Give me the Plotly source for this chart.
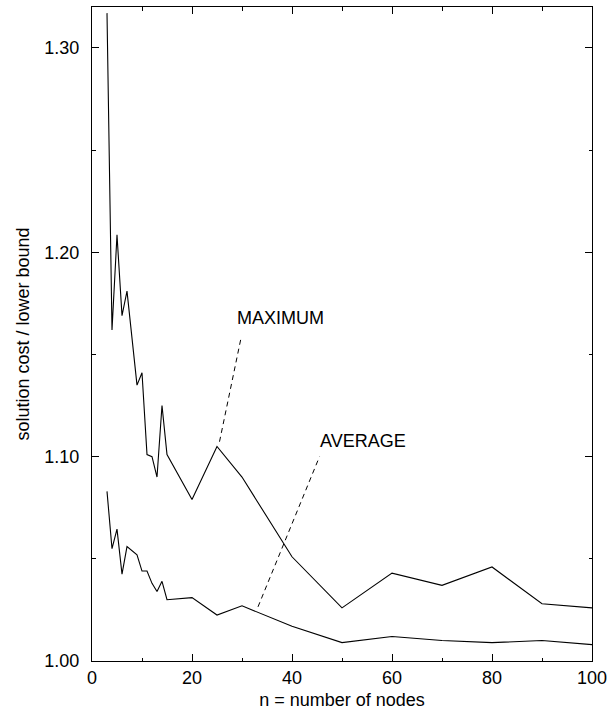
import plotly.graph_objects as go

# data
nodes = [3, 4, 5, 6, 7, 9, 10, 11, 12, 13, 14, 15, 20, 25, 30, 40, 50, 60, 70, 80, 90, 100]
maximum = [1.317, 1.162, 1.2085, 1.169, 1.181, 1.135, 1.141, 1.101, 1.100, 1.090, 1.125, 1.101,
           1.079, 1.105, 1.090, 1.051, 1.026, 1.043, 1.037, 1.046, 1.028, 1.026]
average = [1.083, 1.055, 1.0645, 1.0425, 1.056, 1.052, 1.044, 1.044, 1.038, 1.034, 1.039, 1.030,
           1.031, 1.0225, 1.027, 1.017, 1.009, 1.012, 1.010, 1.009, 1.010, 1.008]

FONT = "Liberation Sans, Arial, Helvetica, sans-serif"

fig = go.Figure()
fig.add_trace(go.Scatter(x=nodes, y=maximum, mode="lines", name="MAXIMUM",
                         line=dict(color="black", width=1.1)))
fig.add_trace(go.Scatter(x=nodes, y=average, mode="lines", name="AVERAGE",
                         line=dict(color="black", width=1.1)))

# leader lines
fig.add_shape(type="line", x0=25.5, y0=1.1073, x1=29.8, y1=1.158, xref="x", yref="y",
              line=dict(color="black", width=1, dash="5px,4px"))
fig.add_shape(type="line", x0=33.2, y0=1.0265, x1=45.5, y1=1.100, xref="x", yref="y",
              line=dict(color="black", width=1, dash="5px,4px"))

fig.add_annotation(x=28.66, y=1.168, text="MAXIMUM", showarrow=False, xanchor="left",
                   yanchor="middle", font=dict(family=FONT, size=18, color="black"))
fig.add_annotation(x=45.1, y=1.1078, text="AVERAGE", showarrow=False, xanchor="left",
                   yanchor="middle", font=dict(family=FONT, size=18, color="black"))

axis_common = dict(showline=True, linecolor="black", linewidth=1, mirror="ticks",
                   ticks="inside", ticklen=7, tickcolor="black", tickwidth=1,
                   showgrid=False, zeroline=False,
                   tickfont=dict(family=FONT, size=18, color="black"))

fig.update_xaxes(range=[0, 100], dtick=20, tick0=0, ticklabeloverflow="allow",
                 minor=dict(dtick=10, ticks="inside", ticklen=3.5, tickcolor="black", showgrid=False),
                 title=dict(text="n = number of nodes", font=dict(family=FONT, size=18, color="black"),
                            standoff=6),
                 **axis_common)
fig.update_yaxes(range=[1.0, 1.32], dtick=0.1, tick0=1.0, tickformat=".2f",
                 ticklabelstandoff=8,
                 minor=dict(dtick=0.05, ticks="inside", ticklen=3.5, tickcolor="black", showgrid=False),
                 title=dict(text="solution cost / lower bound", font=dict(family=FONT, size=18, color="black"),
                            standoff=10),
                 **axis_common)

fig.update_layout(width=607, height=714, showlegend=False,
                  margin=dict(l=92, r=15, t=7, b=53, autoexpand=False),
                  plot_bgcolor="white", paper_bgcolor="white",
                  font=dict(family=FONT, size=18, color="black"))

# remove the default page margin so the figure fills the window exactly
fig.write_html("out.html", config={"displayModeBar": False},
               post_script="document.body.style.margin='0';document.body.style.overflow='hidden';")
